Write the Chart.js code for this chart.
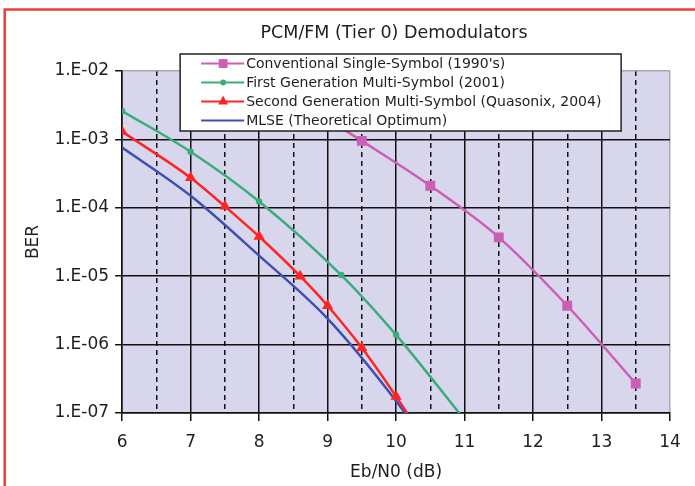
<!DOCTYPE html>
<html>
<head>
<meta charset="utf-8">
<script src="https://cdn.jsdelivr.net/npm/chart.js@4.4.1/dist/chart.umd.min.js"></script>
<style>
  html, body { margin: 0; padding: 0; background: #fff; }
  #wrap { width: 695px; height: 486px; }
</style>
</head>
<body>
<div id="wrap"><canvas id="berChart" width="695" height="486"></canvas></div>
<script>
// values
const chartTitle = 'PCM/FM (Tier 0) Demodulators';
const seriesNames = [
  'Conventional Single-Symbol (1990\'s)',
  'First Generation Multi-Symbol (2001)',
  'Second Generation Multi-Symbol (Quasonix, 2004)',
  'MLSE (Theoretical Optimum)'
];
const conventionalX = [8.5, 9.5, 10.5, 11.5, 12.5, 13.5];
const conventionalBER = [4.0e-3, 9.5e-4, 2.1e-4, 3.7e-5, 3.7e-6, 2.7e-7];
const firstGenX = [6, 7, 8, 9.2, 10, 11];
const firstGenBER = [2.6e-3, 6.6e-4, 1.24e-4, 1.04e-5, 1.39e-6, 8e-8];
const secondGenX = [6, 7, 7.5, 8, 8.6, 9, 9.5, 10, 10.5];
const secondGenBER = [1.3e-3, 2.75e-4, 1.05e-4, 3.8e-5, 1.0e-5, 3.7e-6, 9.0e-7, 1.75e-7, 3e-8];
const mlseX = [6, 7, 8, 9, 10, 10.5];
const mlseBER = [7.6e-4, 1.5e-4, 2.0e-5, 2.4e-6, 1.5e-7, 3e-8];

const xTicks = [6, 7, 8, 9, 10, 11, 12, 13, 14];
const xHalfTicks = [6.5, 7.5, 8.5, 9.5, 10.5, 11.5, 12.5, 13.5];
const yTicks = [1e-7, 1e-6, 1e-5, 1e-4, 1e-3, 1e-2];
const yTickLabels = ['1.E-07', '1.E-06', '1.E-05', '1.E-04', '1.E-03', '1.E-02'];

const FONT = '"DejaVu Sans", Verdana, sans-serif';
const TXT = '#1e1e1e';

function pts(xs, ys) {
  return xs.map((x, i) => ({ x: x, y: ys[i] }));
}

function drawMarker(ctx, style, r, x, y, color) {
  if (!style || !r) return;
  ctx.fillStyle = color;
  ctx.beginPath();
  if (style === 'rect') {
    const s = r * Math.SQRT1_2;
    ctx.rect(x - s, y - s, 2 * s, 2 * s);
  } else if (style === 'triangle') {
    let a = 0;
    ctx.moveTo(x + Math.sin(a) * r, y - Math.cos(a) * r);
    a += 2 * Math.PI / 3;
    ctx.lineTo(x + Math.sin(a) * r, y - Math.cos(a) * r);
    a += 2 * Math.PI / 3;
    ctx.lineTo(x + Math.sin(a) * r, y - Math.cos(a) * r);
    ctx.closePath();
  } else {
    ctx.arc(x, y, r, 0, Math.PI * 2);
  }
  ctx.fill();
}

const plotDecor = {
  id: 'plotDecor',
  beforeDraw(chart) {
    const { ctx, chartArea: a } = chart;
    ctx.save();
    ctx.fillStyle = '#fff';
    ctx.fillRect(0, 0, chart.width, chart.height);
    ctx.fillStyle = '#d8d6ec';
    ctx.fillRect(a.left, a.top, a.right - a.left, a.bottom - a.top);
    ctx.restore();
  },
  afterDraw(chart) {
    const { ctx, chartArea: a } = chart;
    ctx.save();
    // title, centred over the plot
    ctx.font = '17.5px ' + FONT;
    ctx.fillStyle = TXT;
    ctx.textAlign = 'center';
    ctx.textBaseline = 'middle';
    ctx.fillText(chartTitle, (a.left + a.right) / 2 - 2, a.top - 38);

    // legend box over the plot
    const bx = a.left + 58, by = a.top - 17, bw = 441, bh = 77;
    ctx.fillStyle = '#fff';
    ctx.fillRect(bx, by, bw, bh);
    ctx.strokeStyle = '#222';
    ctx.lineWidth = 1.5;
    ctx.strokeRect(bx, by, bw, bh);
    ctx.font = '14px ' + FONT;
    ctx.textAlign = 'left';
    chart.data.datasets.forEach((ds, i) => {
      const y = by + 9.5 + i * 19;
      ctx.strokeStyle = ds.borderColor;
      ctx.lineWidth = 2;
      ctx.beginPath();
      ctx.moveTo(bx + 21, y);
      ctx.lineTo(bx + 64, y);
      ctx.stroke();
      drawMarker(ctx, ds.pointStyle, ds.pointRadius * 0.9, bx + 43, y, ds.borderColor);
      ctx.fillStyle = TXT;
      ctx.fillText(ds.label, bx + 66, y + 1);
    });

    // red frame round the whole chart
    ctx.strokeStyle = '#f03c3c';
    ctx.lineWidth = 2.5;
    ctx.strokeRect(4.7, 9.5, chart.width + 20, chart.height + 20);
    ctx.restore();
  }
};

new Chart(document.getElementById('berChart'), {
  type: 'line',
  data: {
    datasets: [
      {
        label: seriesNames[0],
        data: pts(conventionalX, conventionalBER),
        borderColor: '#cc5eb6',
        backgroundColor: '#cc5eb6',
        pointStyle: 'rect',
        pointRadius: 7
      },
      {
        label: seriesNames[1],
        data: pts(firstGenX, firstGenBER),
        borderColor: '#3aad7a',
        backgroundColor: '#3aad7a',
        pointStyle: 'circle',
        pointRadius: 3.2
      },
      {
        label: seriesNames[2],
        data: pts(secondGenX, secondGenBER),
        borderColor: '#ff2424',
        backgroundColor: '#ff2424',
        pointStyle: 'triangle',
        pointRadius: 6.5
      },
      {
        label: seriesNames[3],
        data: pts(mlseX, mlseBER),
        borderColor: '#3f4fb0',
        backgroundColor: '#3f4fb0',
        pointStyle: false,
        pointRadius: 0
      }
    ]
  },
  options: {
    responsive: false,
    animation: false,
    layout: { padding: { left: 23, right: 25, top: 71, bottom: 5 } },
    elements: {
      line: { borderWidth: 2.5, cubicInterpolationMode: 'monotone', fill: false },
      point: { borderWidth: 0, hoverRadius: 0 }
    },
    plugins: {
      legend: { display: false },
      title: { display: false },
      tooltip: { enabled: false }
    },
    scales: {
      x: {
        type: 'linear',
        min: 6,
        max: 14,
        afterBuildTicks: axis => {
          axis.ticks = xTicks.concat(xHalfTicks).sort((p, q) => p - q).map(v => ({ value: v }));
        },
        ticks: {
          autoSkip: false,
          maxRotation: 0,
          padding: 13,
          color: TXT,
          font: { family: FONT, size: 17, lineHeight: 1 },
          callback: v => (xTicks.indexOf(v) >= 0 ? String(v) : '')
        },
        grid: {
          lineWidth: 1.5,
          tickLength: 8,
          color: c => (c.tick && c.tick.value === 14 ? '#a8a8a8' : '#111'),
          tickColor: c => (c.tick && xTicks.indexOf(c.tick.value) >= 0 ? '#111' : 'rgba(0,0,0,0)')
        },
        border: {
          color: '#111',
          width: 1.5,
          dash: c => (c.tick && xHalfTicks.indexOf(c.tick.value) >= 0 ? [5, 4] : [])
        },
        title: {
          display: true,
          text: 'Eb/N0 (dB)',
          color: TXT,
          font: { family: FONT, size: 17, lineHeight: 1 },
          padding: { top: 0, bottom: 0 }
        }
      },
      y: {
        type: 'logarithmic',
        min: 1e-7,
        max: 1e-2,
        afterBuildTicks: axis => {
          axis.ticks = yTicks.map(v => ({ value: v }));
        },
        ticks: {
          padding: 6,
          color: TXT,
          font: { family: FONT, size: 17 },
          callback: (v, i) => yTickLabels[i]
        },
        grid: {
          lineWidth: 1.5,
          tickLength: 7,
          color: c => (c.tick && c.tick.value === 1e-2 ? '#a8a8a8' : '#111'),
          tickColor: '#111'
        },
        border: { color: '#111', width: 1.5 },
        title: {
          display: true,
          text: 'BER',
          color: TXT,
          font: { family: FONT, size: 17 },
          padding: { top: 0, bottom: 5 }
        }
      }
    }
  },
  plugins: [plotDecor]
});
</script>
</body>
</html>
